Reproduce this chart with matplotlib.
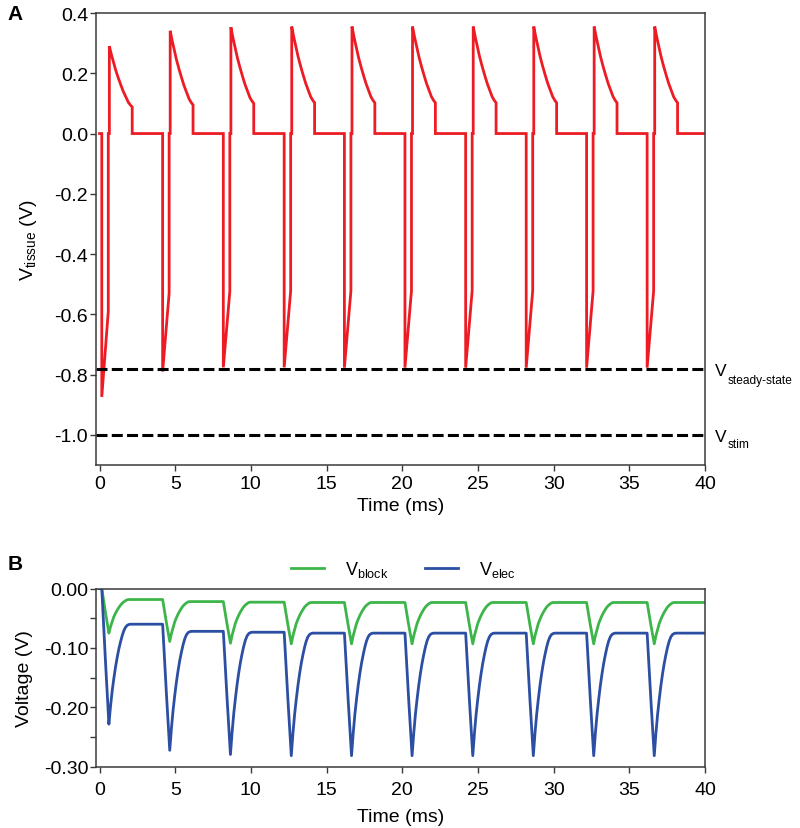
import matplotlib
matplotlib.use('Agg')
import matplotlib.pyplot as plt
from matplotlib.ticker import MultipleLocator, FixedLocator, FormatStrFormatter

plt.rcParams['font.family'] = ['Liberation Sans', 'DejaVu Sans']
plt.rcParams['mathtext.fontset'] = 'custom'
plt.rcParams['mathtext.rm'] = 'Liberation Sans'
plt.rcParams['mathtext.it'] = 'Liberation Sans:italic'
plt.rcParams['mathtext.bf'] = 'Liberation Sans:bold'
plt.rcParams['axes.unicode_minus'] = False

# ---------------- data ----------------
# stimulation cycle start times (ms)
cycle_start = [0.15, 4.17, 8.18, 12.20, 16.18, 20.18, 24.19, 28.19, 32.18, 36.18]

# Panel A: V_tissue per cycle (V)
tissue_min = [-0.874, -0.790, -0.776, -0.776, -0.777, -0.777, -0.777, -0.777, -0.777, -0.777]
tissue_ramp = [-0.590, -0.530, -0.524, -0.522, -0.522, -0.522, -0.522, -0.522, -0.522, -0.522]
tissue_peak = [0.290, 0.341, 0.353, 0.355, 0.355, 0.355, 0.355, 0.355, 0.355, 0.355]
tissue_end = [0.088, 0.095, 0.100, 0.102, 0.102, 0.102, 0.102, 0.102, 0.102, 0.102]
ramp_offset = 0.43   # ms after cycle start
decay_offset = [0.50, 0.63, 0.76, 0.92, 1.09, 1.26, 1.42, 1.59, 1.75, 1.89, 2.01]
decay_shape = [1.0, 0.867, 0.747, 0.606, 0.478, 0.361, 0.257, 0.165, 0.080, 0.032, 0.0]
v_steady = -0.78
v_stim = -1.0

# Panel B: electrode and block voltages per cycle (V)
elec_min = [-0.228, -0.272, -0.279, -0.281, -0.281, -0.281, -0.281, -0.281, -0.281, -0.281]
elec_rest = [-0.060, -0.072, -0.0735, -0.075, -0.075, -0.075, -0.075, -0.075, -0.075, -0.075]
block_min = [-0.075, -0.089, -0.092, -0.093, -0.093, -0.093, -0.093, -0.093, -0.093, -0.093]
block_rest = [-0.0185, -0.022, -0.023, -0.0235, -0.0235, -0.0235, -0.0235, -0.0235, -0.0235, -0.0235]
drop_offset = [0.0, 0.25, 0.47]
drop_shape = [0.0, 0.55, 1.0]
recov_offset = [0.47, 0.58, 0.69, 0.80, 0.91, 1.02, 1.13, 1.24, 1.35, 1.46, 1.57, 1.68, 1.79, 1.90]
elec_shape = [1.0, 0.818, 0.664, 0.539, 0.427, 0.330, 0.246, 0.176, 0.114, 0.064, 0.030, 0.011, 0.003, 0.0]
block_shape = [1.0, 0.805, 0.653, 0.508, 0.407, 0.314, 0.237, 0.169, 0.110, 0.068, 0.034, 0.008, 0.0, 0.0]
t_end = 40.0

# ---------------- assemble traces ----------------
tt, tv = [0.0], [0.0]
for k, t0 in enumerate(cycle_start):
    tt += [t0, t0, t0 + ramp_offset, t0 + ramp_offset, t0 + decay_offset[0]]
    tv += [0.0, tissue_min[k], tissue_ramp[k], 0.0, 0.0]
    for off, s in zip(decay_offset, decay_shape):
        tt.append(t0 + off)
        tv.append(tissue_end[k] + (tissue_peak[k] - tissue_end[k]) * s)
    tt.append(t0 + decay_offset[-1])
    tv.append(0.0)
tt.append(t_end)
tv.append(0.0)


def build(mins, rests, shape):
    xs, ys = [0.0], [0.0]
    prev = 0.0
    for k, t0 in enumerate(cycle_start):
        for off, s in zip(drop_offset, drop_shape):
            xs.append(t0 + off)
            ys.append(prev + (mins[k] - prev) * s)
        for off, s in zip(recov_offset, shape):
            xs.append(t0 + off)
            ys.append(rests[k] + (mins[k] - rests[k]) * s)
        prev = rests[k]
    xs.append(t_end)
    ys.append(prev)
    return xs, ys


et, ev = build(elec_min, elec_rest, elec_shape)
bt, bv = build(block_min, block_rest, block_shape)

# ---------------- figure ----------------
RED = '#ED1C24'
GREEN = '#3DB54A'
BLUE = '#2C4FA3'
SPINE = '#3a3a3a'
FS = 14

fig = plt.figure(figsize=(8, 8.29), dpi=100)
axA = fig.add_axes([0.1206, 0.4379, 0.7606, 0.5452])
axB = fig.add_axes([0.1206, 0.0736, 0.7606, 0.2153])

for ax in (axA, axB):
    for sp in ax.spines.values():
        sp.set_color(SPINE)
        sp.set_linewidth(1.1)
    ax.tick_params(which='both', direction='out', length=4, width=1.0,
                   color=SPINE, labelsize=FS, pad=2, top=False, right=False)
    ax.set_xlim(-0.2, 40)
    ax.xaxis.set_major_locator(MultipleLocator(5))

axA.tick_params(axis='x', pad=3)
axB.tick_params(axis='x', pad=6)

# Panel A
axA.plot(tt, tv, color=RED, lw=2.0, solid_joinstyle='miter')
axA.axhline(v_steady, color='black', lw=2.2, dashes=(3.6, 1.4))
axA.axhline(v_stim, color='black', lw=2.2, dashes=(3.6, 1.4))
axA.set_ylim(-1.1, 0.4)
axA.yaxis.set_major_locator(FixedLocator([-1.0, -0.8, -0.6, -0.4, -0.2, 0.0, 0.2, 0.4]))
axA.yaxis.set_major_formatter(FormatStrFormatter('%.1f'))
axA.set_xlabel('Time (ms)', fontsize=FS, labelpad=4)
axA.set_ylabel(r'V$_{\mathrm{tissue}}$ (V)', fontsize=FS, labelpad=11)

axA.annotate('V', xy=(1.0, v_steady), xycoords=('axes fraction', 'data'),
             xytext=(10, -6), textcoords='offset pixels', fontsize=12.5,
             ha='left', va='baseline', annotation_clip=False)
axA.annotate('steady-state', xy=(1.0, v_steady), xycoords=('axes fraction', 'data'),
             xytext=(23, -14), textcoords='offset pixels', fontsize=8.6,
             ha='left', va='baseline', annotation_clip=False)
axA.annotate('V', xy=(1.0, v_stim), xycoords=('axes fraction', 'data'),
             xytext=(10, -6), textcoords='offset pixels', fontsize=12.5,
             ha='left', va='baseline', annotation_clip=False)
axA.annotate('stim', xy=(1.0, v_stim), xycoords=('axes fraction', 'data'),
             xytext=(23, -12), textcoords='offset pixels', fontsize=8.6,
             ha='left', va='baseline', annotation_clip=False)

# Panel B
axB.plot(bt, bv, color=GREEN, lw=2.0, label=r'V$_{\mathrm{block}}$')
axB.plot(et, ev, color=BLUE, lw=2.0, label=r'V$_{\mathrm{elec}}$')
axB.set_ylim(-0.30, 0.0)
axB.yaxis.set_major_locator(FixedLocator([-0.30, -0.20, -0.10, 0.00]))
axB.yaxis.set_minor_locator(FixedLocator([-0.25, -0.15, -0.05]))
axB.yaxis.set_major_formatter(FormatStrFormatter('%.2f'))
axB.set_xlabel('Time (ms)', fontsize=FS, labelpad=7)
axB.set_ylabel('Voltage (V)', fontsize=FS, labelpad=8)
axB.legend(loc='lower center', bbox_to_anchor=(0.505, 1.0), ncol=2, frameon=False,
           fontsize=13, handlelength=1.8, handletextpad=1.2, columnspacing=2.0,
           borderaxespad=0.35, borderpad=0.15)

fig.text(15 / 800, 1 - 15 / 829, 'A', fontsize=15, fontweight='bold', ha='center', va='center')
fig.text(15 / 800, 1 - 565 / 829, 'B', fontsize=15, fontweight='bold', ha='center', va='center')

fig.savefig('out.png', dpi=100)
